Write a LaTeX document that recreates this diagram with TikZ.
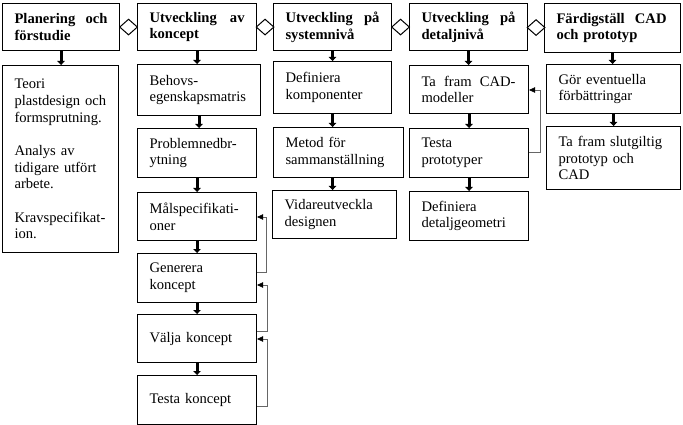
\documentclass[tikz,border=0pt]{standalone}
\usepackage{fontspec}
\setmainfont{Liberation Serif}
\usetikzlibrary{arrows.meta,shapes.geometric,calc}
\newcommand\justline[2]{\hbox to #1{#2}}
\begin{document}
\begin{tikzpicture}[x=1pt,y=-1pt,
  box/.style={draw, line width=1.1pt, anchor=north west, inner xsep=12pt, inner ysep=0pt, align=left, font=\fontsize{14.6}{16.7}\selectfont},
  hdr/.style={box, font=\fontsize{14.6}{16.7}\selectfont\bfseries},
  down/.style={line width=3pt, -{Triangle[width=7.5pt,length=4pt]}},
  fb/.style={line width=0.6pt, draw=black!60, -{Triangle[width=5.5pt,length=6pt,fill=black,color=black]}},
  dia/.style={diamond, draw, line width=1pt, fill=white, minimum width=18pt, minimum height=16pt, inner sep=0pt}]
\useasboundingbox[fill=white] (0,0) rectangle (683,425);

% headers
\node[hdr, minimum width=117pt, minimum height=47pt, text width=93pt] (h1) at (2,3) {\justline{93pt}{Planering\hfill och}\\förstudie};
\node[hdr, minimum width=119pt, minimum height=47pt, text width=95pt] (h2) at (137,3) {\justline{95pt}{Utveckling\hfill av}\\koncept};
\node[hdr, minimum width=118pt, minimum height=47pt, text width=94pt] (h3) at (273,3) {\justline{94pt}{Utveckling\hfill på}\\systemnivå};
\node[hdr, minimum width=118pt, minimum height=47pt, text width=94pt] (h4) at (409,3) {\justline{94pt}{Utveckling\hfill på}\\detaljnivå};
\node[hdr, minimum width=136pt, minimum height=49pt, text width=112pt] (h5) at (544,3) {\justline{110pt}{Färdigställ\hfill CAD}\\och prototyp};

% diamonds
\node[dia] (m1) at ($(h1.east)!0.5!(h2.west)$) {};
\node[dia] (m2) at ($(h2.east)!0.5!(h3.west)$) {};
\node[dia] (m3) at ($(h3.east)!0.5!(h4.west)$) {};
\node[dia] (m4) at ($(h4.east)!0.5!(h5.west)$) {};

% column 1
\node[box, minimum width=116pt, minimum height=187pt, text width=92pt] (t1) at (2,65)
  {Teori\\plastdesign och\\formsprutning.\\[16.7pt]Analys av\\tidigare utfört\\arbete.\\[16.7pt]Kravspecifikat-\\ion.};

% column 2
\node[box, minimum width=123pt, minimum height=51pt, text width=99pt] (c1) at (137,64) {Behovs-\\egenskapsmatris};
\node[box, minimum width=119pt, minimum height=49pt, text width=95pt] (c2) at (137,128) {Problemnedbr-\\ytning};
\node[box, minimum width=119pt, minimum height=48pt, text width=95pt] (c3) at (137,192) {Målspecifikati-\\oner};
\node[box, minimum width=119pt, minimum height=49pt, text width=95pt] (c4) at (137,253) {Generera\\koncept};
\node[box, minimum width=119pt, minimum height=48pt, text width=95pt] (c5) at (137,314) {Välja koncept};
\node[box, minimum width=119pt, minimum height=49pt, text width=95pt] (c6) at (137,375) {Testa koncept};

% column 3
\node[box, minimum width=118pt, minimum height=52pt, text width=94pt] (s1) at (273,61) {Definiera\\komponenter};
\node[box, minimum width=130pt, minimum height=50pt, text width=106pt] (s2) at (273,127) {Metod för\\sammanställning};
\node[box, minimum width=124pt, minimum height=48pt, text width=100pt] (s3) at (272,190) {Vidareutveckla\\designen};

% column 4
\node[box, minimum width=119pt, minimum height=48pt, text width=95pt] (d1) at (409,65) {\justline{94pt}{Ta\hfill fram\hfill CAD-}\\modeller};
\node[box, minimum width=119pt, minimum height=49pt, text width=95pt] (d2) at (409,128) {Testa\\prototyper};
\node[box, minimum width=119pt, minimum height=49pt, text width=95pt] (d3) at (409,191) {Definiera\\detaljgeometri};

% column 5
\node[box, minimum width=134pt, minimum height=49pt, text width=110pt] (f1) at (546,64) {Gör eventuella\\förbättringar};
\node[box, minimum width=134pt, minimum height=63pt, text width=110pt] (f2) at (546,126) {Ta fram slutgiltig\\prototyp och\\CAD};

% down arrows
\draw[down] (h1.south) -- (h1.south |- t1.north);
\draw[down] (h2.south) -- (h2.south |- c1.north);
\draw[down] (c1.south) -- (c1.south |- c2.north);
\draw[down] (c2.south) -- (c2.south |- c3.north);
\draw[down] (c3.south) -- (c3.south |- c4.north);
\draw[down] (c4.south) -- (c4.south |- c5.north);
\draw[down] (c5.south) -- (c5.south |- c6.north);
\draw[down] (h3.south) -- (h3.south |- s1.north);
\draw[down] (s1.south) -- (s1.south |- s2.north);
\draw[down] (s1.south |- s2.south) -- (s1.south |- s3.north);
\draw[down] (h4.south) -- (h4.south |- d1.north);
\draw[down] (d1.south) -- (d1.south |- d2.north);
\draw[down] (d2.south) -- (d2.south |- d3.north);
\draw[down] (h5.south) -- (h5.south |- f1.north);
\draw[down] (f1.south) -- (f1.south |- f2.north);

% feedback arrows
\draw[fb] (c4.east |- 0,272) -- ++(9,0) |- (c3.east |- 0,217);
\draw[fb] (c5.east |- 0,331) -- ++(10,0) |- (c4.east |- 0,285);
\draw[fb] (c6.east |- 0,406) -- ++(10,0) |- (c5.east |- 0,339);
\draw[fb] (d2.east |- 0,152) -- ++(11,0) |- (d1.east |- 0,90);
\end{tikzpicture}
\end{document}
